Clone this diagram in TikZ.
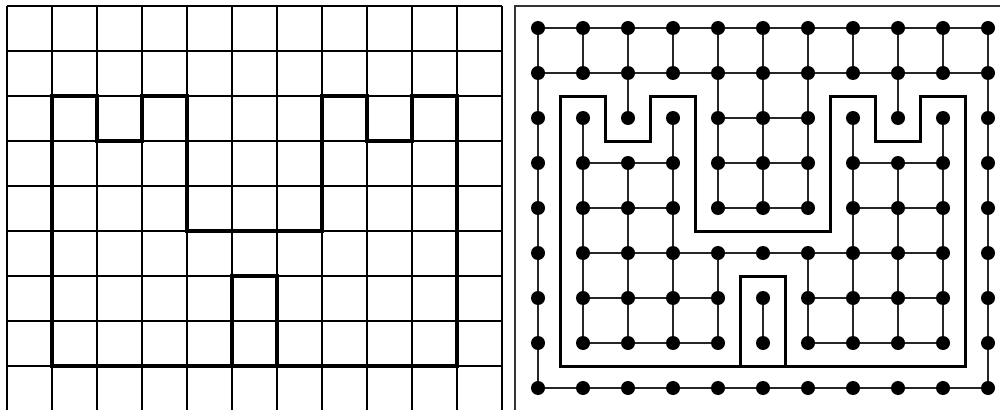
\documentclass[tikz,border=0pt]{standalone}
\newcommand\myhedges[2]{\foreach \k in {#2}{\pgfmathtruncatemacro\kn{\k+1}\draw[edge] (d-\k-#1) -- (d-\kn-#1);}}
\newcommand\myvedges[2]{\foreach \k in {#2}{\pgfmathtruncatemacro\rn{#1+1}\draw[edge] (d-\k-#1) -- (d-\k-\rn);}}
\newcommand\mycastle{(52,96) -- (97,96) -- (97,141) -- (142,141) -- (142,96) -- (187,96) -- (187,231) -- (322,231) -- (322,96) -- (367,96) -- (367,141) -- (412,141) -- (412,96) -- (457,96) -- (457,366) -- (52,366) -- cycle (232,366) -- (232,276) -- (277,276) -- (277,366)}
\begin{document}
\begin{tikzpicture}[x=0.75pt,y=-0.75pt,
  gridline/.style={line width=0.9pt,black},
  frameline/.style={line width=0.8pt,black!80},
  outline/.style={line width=2.3pt,black,line join=miter},
  dot/.style={circle,fill=black,inner sep=0pt,minimum size=10.5pt},
  edge/.style={line width=1.1pt,black!85}]
\useasboundingbox (0,0) rectangle (1000,410);
\begin{scope}
\clip (0,0) rectangle (1000,410);
% left grid
\foreach \i in {0,...,11} \draw[gridline] (7+45*\i,6) -- (7+45*\i,420);
\foreach \j in {0,...,9} \draw[gridline] (7,6+45*\j) -- (502,6+45*\j);
\draw[outline] \mycastle;
% right frame
\draw[frameline] (515,420) -- (515,6) -- (1012,6);
\draw[outline,shift={(508.5,0.5)}] \mycastle;
% dots
\foreach \k in {0,...,10} \foreach \r in {0,...,8}
  \node[dot] (d-\k-\r) at (538+45*\k,28+45*\r) {};
% horizontal edges
\myhedges{0}{0,...,9}
\myhedges{1}{0,...,9}
\myhedges{2}{4,5}
\myhedges{3}{1,2,4,5,7,8}
\myhedges{4}{1,2,4,5,7,8}
\myhedges{5}{1,...,8}
\myhedges{6}{1,2,3,6,7,8}
\myhedges{7}{1,2,3,6,7,8}
\myhedges{8}{0,...,9}
% vertical edges
\myvedges{0}{0,...,10}
\myvedges{1}{0,2,4,5,6,8,10}
\myvedges{2}{0,1,3,4,5,6,7,9,10}
\myvedges{3}{0,...,10}
\myvedges{4}{0,1,2,3,7,8,9,10}
\myvedges{5}{0,1,2,3,4,6,7,8,9,10}
\myvedges{6}{0,...,10}
\myvedges{7}{0,10}
\end{scope}
\end{tikzpicture}
\end{document}
